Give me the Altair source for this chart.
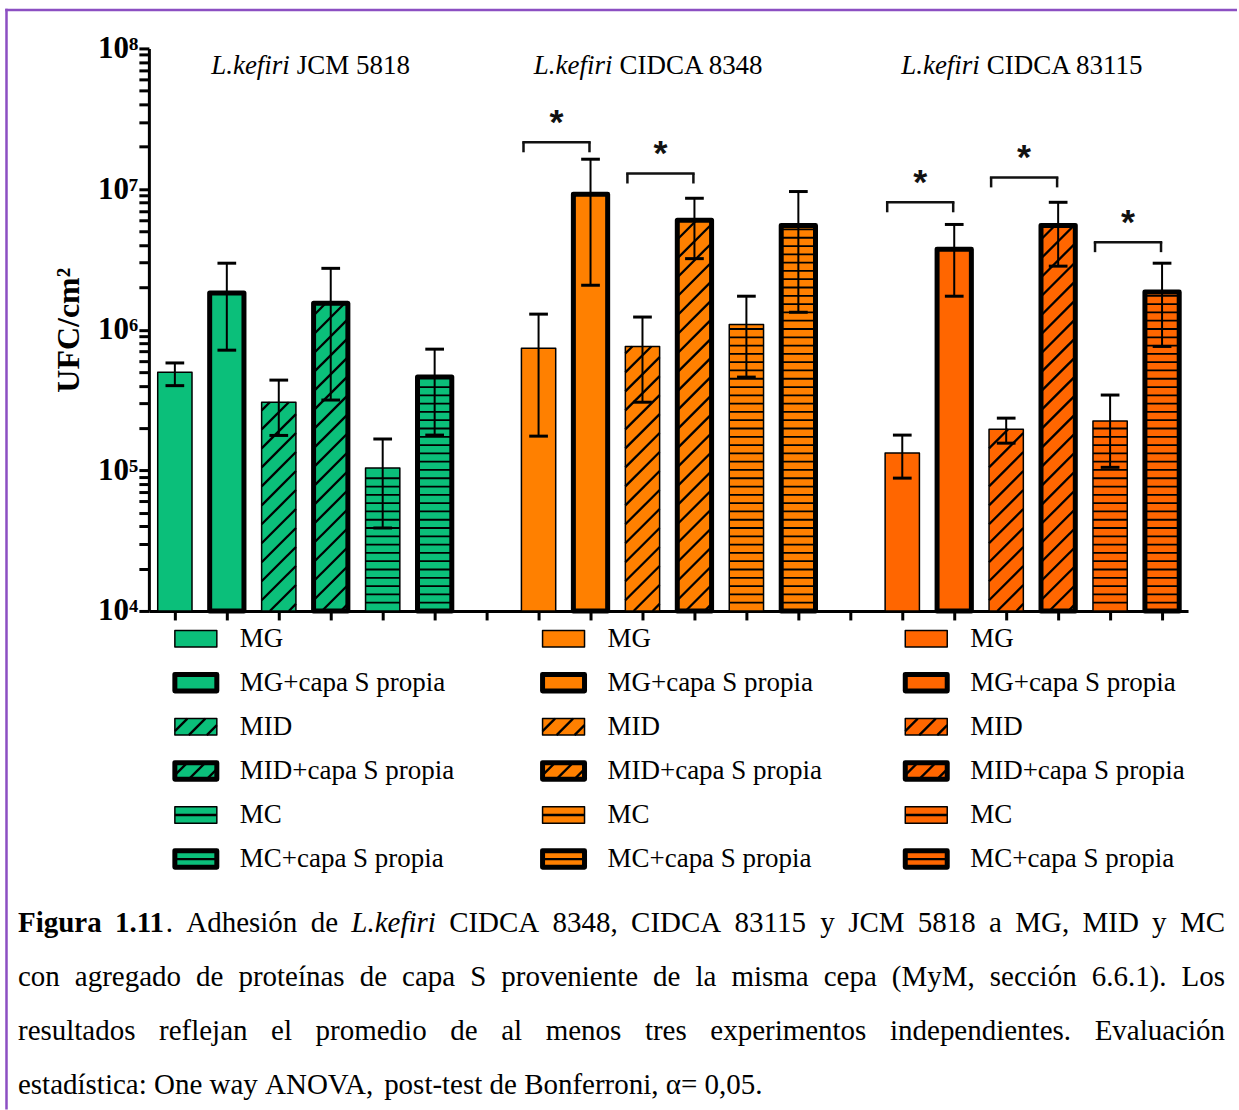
import re
import math
import altair as alt
import pandas as pd

# ---------------- data ----------------
species = "L.kefiri"
strains = ["JCM 5818", "CIDCA 8348", "CIDCA 83115"]
conditions = ["MG", "MG+capa S propia", "MID", "MID+capa S propia", "MC", "MC+capa S propia"]
group_colors = ["#0BBF7A", "#FF8000", "#FF6600"]

mean_jcm5818 = [4.99e5, 1.82e6, 3.05e5, 1.54e6, 1.04e5, 4.6e5]
upper_jcm5818 = [5.8e5, 2.97e6, 4.38e5, 2.73e6, 1.67e5, 7.27e5]
lower_jcm5818 = [4.0e5, 7.15e5, 1.77e5, 3.16e5, 3.89e4, 1.78e5]

mean_cidca8348 = [7.39e5, 9.18e6, 7.6e5, 6.0e6, 1.09e6, 5.5e6]
upper_cidca8348 = [1.29e6, 1.63e7, 1.23e6, 8.6e6, 1.73e6, 9.6e6]
lower_cidca8348 = [1.75e5, 2.07e6, 3.05e5, 3.2e6, 4.6e5, 1.33e6]

mean_cidca83115 = [1.33e5, 3.73e6, 1.96e5, 5.5e6, 2.24e5, 1.85e6]
upper_cidca83115 = [1.78e5, 5.6e6, 2.35e5, 8.05e6, 3.43e5, 2.97e6]
lower_cidca83115 = [8.8e4, 1.73e6, 1.56e5, 2.83e6, 1.05e5, 7.6e5]

# significance brackets
sig_left = [7, 9, 14, 16, 18]
sig_right = [8, 10, 15, 17, 19]
sig_level = [2.15e7, 1.29e7, 8.05e6, 1.21e7, 4.19e6]

title_split = [2.28, 8.49, 15.56]
title_level = 7.45e7

y_ticks = [k * 10 ** e for e in range(4, 8) for k in range(1, 10)] + [10 ** 8]

caption_lines = [
    "**Figura** **1.11**. Adhesión de _L.kefiri_ CIDCA 8348, CIDCA 83115 y JCM 5818 a MG, MID y MC",
    "con agregado de proteínas de capa S proveniente de la misma cepa (MyM, sección 6.6.1). Los",
    "resultados reflejan el promedio de al menos tres experimentos independientes. Evaluación",
    "estadística: One way ANOVA, post-test de Bonferroni, α= 0,05.",
]
caption_justify = [True, True, True, False]

# ---------------- layout / style constants ----------------
W, H = 1040, 563
DEC_PX = H / 4.0
SLOT_PX = W / 20.0
HALF = 0.33
CAP = 0.18
FONT = "Liberation Serif"
PURPLE = "#8C4FC2"

means = [mean_jcm5818, mean_cidca8348, mean_cidca83115]
uppers = [upper_jcm5818, upper_cidca8348, upper_cidca83115]
lowers = [lower_jcm5818, lower_cidca8348, lower_cidca83115]

rows = []
for g in range(3):
    for c in range(6):
        s = 7 * g + c
        rows.append(dict(slot=s, xl=s - HALF, xr=s + HALF, cl=s - CAP, cr=s + CAP,
                         mean=means[g][c], hi=uppers[g][c], lo=lowers[g][c], base=1e4,
                         color=group_colors[g], sw=5.0 if c % 2 else 1.5, pattern=c // 2))
bars = pd.DataFrame(rows)

# hatch geometry derived from the bars
bar_w_px = 2 * HALF * SLOT_PX
RISE = bar_w_px / DEC_PX
DSTEP = 19.0 / DEC_PX
HSTEP = 8.3 / DEC_PX
diag_rows, horz_rows = [], []
for r in rows:
    top = math.log10(r["mean"])
    if r["pattern"] == 1:
        k = 0
        while True:
            L0 = 4 - RISE + 0.05 + k * DSTEP
            if L0 >= top:
                break
            tmin = max(0.0, (4 - L0) / RISE)
            tmax = min(1.0, (top - L0) / RISE)
            if tmax > tmin + 0.02:
                diag_rows.append(dict(x0=r["xl"] + tmin * 2 * HALF, x1=r["xl"] + tmax * 2 * HALF,
                                      y0=10 ** (L0 + tmin * RISE), y1=10 ** (L0 + tmax * RISE)))
            k += 1
    elif r["pattern"] == 2:
        k = 1
        while 4 + k * HSTEP < top - 0.3 * HSTEP:
            horz_rows.append(dict(x0=r["xl"], x1=r["xr"], y=10 ** (4 + k * HSTEP)))
            k += 1
diag = pd.DataFrame(diag_rows)
horz = pd.DataFrame(horz_rows)

sig = pd.DataFrame(dict(bl=[l - 0.29 for l in sig_left], br=[r - 0.02 for r in sig_right],
                        level=sig_level))
sig["mid"] = (sig["bl"] + sig["br"]) / 2

titles = pd.DataFrame(dict(split=title_split, level=[title_level] * 3,
                           species=[species] * 3, strain=strains))

# legend (pixel layout relative to plot origin)
leg_col_x = [26, 394, 757]
leg_row_y = [590.8 + 44.1 * i for i in range(6)]
SW_W, SW_H = 42, 16.5
leg_rows, leg_hatch = [], []
for g in range(3):
    for c in range(6):
        x0 = leg_col_x[g]
        yc = leg_row_y[c]
        yt, yb = yc - SW_H / 2, yc + SW_H / 2
        leg_rows.append(dict(lx0=x0, lx1=x0 + SW_W, ly0=yt, ly1=yb, color=group_colors[g],
                             sw=5.0 if c % 2 else 1.5, label=conditions[c], tx=x0 + 65, ty=yc))
        if c // 2 == 1:
            for a in [-4, 14, 32]:
                tmin = max(0.0, -a / SW_H)
                tmax = min(1.0, (SW_W - a) / SW_H)
                leg_hatch.append(dict(hx0=x0 + a + tmin * SW_H, hx1=x0 + a + tmax * SW_H,
                                      hy0=yb - tmin * SW_H, hy1=yb - tmax * SW_H))
        elif c // 2 == 2:
            leg_hatch.append(dict(hx0=x0, hx1=x0 + SW_W, hy0=yc, hy1=yc))
legend = pd.DataFrame(leg_rows)
legend_h = pd.DataFrame(leg_hatch)

# caption layout (justified using Times-compatible metrics)
REG = {' ': 250, 'a': 444, 'b': 500, 'c': 444, 'd': 500, 'e': 444, 'f': 333, 'g': 500, 'h': 500,
       'i': 278, 'j': 278, 'k': 500, 'l': 278, 'm': 778, 'n': 500, 'o': 500, 'p': 500, 'q': 500,
       'r': 333, 's': 389, 't': 278, 'u': 500, 'v': 500, 'w': 722, 'x': 500, 'y': 500, 'z': 444,
       'A': 722, 'B': 667, 'C': 667, 'D': 722, 'E': 611, 'F': 556, 'G': 722, 'H': 722, 'I': 333,
       'J': 389, 'K': 722, 'L': 611, 'M': 889, 'N': 722, 'O': 722, 'P': 556, 'Q': 722, 'R': 667,
       'S': 556, 'T': 611, 'U': 722, 'V': 722, 'W': 944, 'X': 722, 'Y': 722, 'Z': 611,
       '.': 250, ',': 250, ':': 278, '(': 333, ')': 333, '-': 333, '=': 564,
       'á': 444, 'é': 444, 'í': 278, 'ó': 500, 'ú': 500, 'α': 520}
for d in "0123456789":
    REG[d] = 500
BOLD = {'F': 611, 'i': 278, 'g': 500, 'u': 556, 'r': 444, 'a': 500, '.': 250, ' ': 250}
ITAL = {'L': 556, '.': 250, 'k': 444, 'e': 444, 'f': 278, 'i': 278, 'r': 389}
CAP_FS = 29
CAP_X0, CAP_X1 = -131, 1077
cap_base = [884, 938, 992, 1046]


def piece_w(s, style):
    t = {"r": REG, "b": BOLD, "i": ITAL}[style]
    return sum(t.get(ch, REG.get(ch, 500)) for ch in s) * CAP_FS / 1000.0


cap_rows = []
for li, line in enumerate(caption_lines):
    words = []
    for w in line.split(" "):
        pieces = []
        for m in re.finditer(r"\*\*(.+?)\*\*|_(.+?)_|([^*_]+)", w):
            if m.group(1):
                pieces.append((m.group(1), "b"))
            elif m.group(2):
                pieces.append((m.group(2), "i"))
            else:
                pieces.append((m.group(3), "r"))
        words.append(pieces)
    widths = [sum(piece_w(p, s) for p, s in wd) for wd in words]
    if caption_justify[li]:
        gap = max(0.15 * CAP_FS, (CAP_X1 - CAP_X0 - sum(widths)) / (len(words) - 1))
    else:
        gap = 0.25 * CAP_FS
    x = CAP_X0
    for wd, ww in zip(words, widths):
        for p, s in wd:
            cap_rows.append(dict(x=x, y=cap_base[li], text=p, style=s))
            x += piece_w(p, s)
        x += gap
caption = pd.DataFrame(cap_rows)

# ---------------- chart ----------------
xs = alt.Scale(domain=[-0.5, 19.5], nice=False, zero=False)
ys = alt.Scale(type="log", domain=[1e4, 1e8], nice=False)

label_expr = ("datum.value == 100000000 ? '10⁸' : datum.value == 10000000 ? '10⁷' : "
              "datum.value == 1000000 ? '10⁶' : datum.value == 100000 ? '10⁵' : "
              "datum.value == 10000 ? '10⁴' : ''")

xaxis = alt.Axis(values=list(range(20)), labels=False, title=None, tickSize=9, tickWidth=3,
                 tickColor="black", domainWidth=3, domainColor="black", grid=False)
yaxis = alt.Axis(values=y_ticks, labelExpr=label_expr, labelFont=FONT, labelFontSize=31,
                 labelFontWeight="bold", labelColor="black", labelPadding=1, labelOverlap=False,
                 labelFlush=False, tickSize=10, tickWidth=3, tickColor="black",
                 domainWidth=3, domainColor="black", grid=False,
                 title="UFC/cm²", titleFont=FONT, titleFontSize=32, titleFontWeight="bold",
                 titleColor="black", titlePadding=12)


def X(f):
    return alt.X(f, scale=xs, axis=xaxis)


def Y(f):
    return alt.Y(f, scale=ys, axis=yaxis)


fill = alt.Chart(bars).mark_rect().encode(
    x=X("xl:Q"), x2="xr:Q", y=Y("mean:Q"), y2="base:Q",
    fill=alt.Fill("color:N", scale=None))

diag_l = alt.Chart(diag).mark_rule(color="black", strokeWidth=2.3).encode(
    x=X("x0:Q"), x2="x1:Q", y=Y("y0:Q"), y2="y1:Q")

horz_l = alt.Chart(horz).mark_rule(color="black", strokeWidth=1.8).encode(
    x=X("x0:Q"), x2="x1:Q", y=Y("y:Q"))

outline = alt.Chart(bars).mark_rect(fillOpacity=0, stroke="black", strokeJoin="round").encode(
    x=X("xl:Q"), x2="xr:Q", y=Y("mean:Q"), y2="base:Q",
    strokeWidth=alt.StrokeWidth("sw:Q", scale=None))

stem = alt.Chart(bars).mark_rule(color="black", strokeWidth=2).encode(
    x=X("slot:Q"), y=Y("lo:Q"), y2="hi:Q")
cap_hi = alt.Chart(bars).mark_rule(color="black", strokeWidth=3).encode(
    x=X("cl:Q"), x2="cr:Q", y=Y("hi:Q"))
cap_lo = alt.Chart(bars).mark_rule(color="black", strokeWidth=3).encode(
    x=X("cl:Q"), x2="cr:Q", y=Y("lo:Q"))

br_h = alt.Chart(sig).mark_rule(color="#111111", strokeWidth=2.5, strokeCap="square").encode(
    x=X("bl:Q"), x2="br:Q", y=Y("level:Q"))
br_l = alt.Chart(sig).mark_rule(color="#111111", strokeWidth=2.5, y2Offset=10).encode(
    x=X("bl:Q"), y=Y("level:Q"), y2="level:Q")
br_r = alt.Chart(sig).mark_rule(color="#111111", strokeWidth=2.5, y2Offset=10).encode(
    x=X("br:Q"), y=Y("level:Q"), y2="level:Q")
stars = alt.Chart(sig).mark_text(text="*", font="Liberation Sans", fontSize=36, fontWeight="bold",
                                 dy=-19, baseline="middle", align="center", color="#111111").encode(
    x=X("mid:Q"), y=Y("level:Q"))

t_it = alt.Chart(titles).mark_text(font=FONT, fontSize=27, fontStyle="italic", align="right",
                                   baseline="middle", dx=-3.5, color="black").encode(
    x=X("split:Q"), y=Y("level:Q"), text="species:N")
t_rg = alt.Chart(titles).mark_text(font=FONT, fontSize=27, align="left",
                                   baseline="middle", dx=3.5, color="black").encode(
    x=X("split:Q"), y=Y("level:Q"), text="strain:N")

main = alt.layer(fill, diag_l, horz_l, outline, stem, cap_hi, cap_lo,
                 br_h, br_l, br_r, stars, t_it, t_rg)

# legend layers
PX = dict(scale=None)
lg_fill = alt.Chart(legend).mark_rect().encode(
    x=alt.X("lx0:Q", **PX), x2="lx1:Q", y=alt.Y("ly0:Q", **PX), y2="ly1:Q",
    fill=alt.Fill("color:N", scale=None))
lg_hatch = alt.Chart(legend_h).mark_rule(color="black", strokeWidth=2.3).encode(
    x=alt.X("hx0:Q", **PX), x2="hx1:Q", y=alt.Y("hy0:Q", **PX), y2="hy1:Q")
lg_out = alt.Chart(legend).mark_rect(fillOpacity=0, stroke="black", strokeJoin="round").encode(
    x=alt.X("lx0:Q", **PX), x2="lx1:Q", y=alt.Y("ly0:Q", **PX), y2="ly1:Q",
    strokeWidth=alt.StrokeWidth("sw:Q", scale=None))
lg_text = alt.Chart(legend).mark_text(font=FONT, fontSize=27, align="left", baseline="middle",
                                      color="black").encode(
    x=alt.X("tx:Q", **PX), y=alt.Y("ty:Q", **PX), text="label:N")

cap_layers = []
for style, kw in [("r", {}), ("b", {"fontWeight": "bold"}), ("i", {"fontStyle": "italic"})]:
    cap_layers.append(
        alt.Chart(caption).transform_filter(alt.datum.style == style)
        .mark_text(font=FONT, fontSize=CAP_FS, align="left", baseline="alphabetic",
                   color="black", **kw)
        .encode(x=alt.X("x:Q", **PX), y=alt.Y("y:Q", **PX), text="text:N"))

one = pd.DataFrame({"a": [0]})
border_l = alt.Chart(one).mark_rule(color=PURPLE, strokeWidth=2.5).encode(
    x=alt.value(-142.5), y=alt.value(-39.75), y2=alt.value(1062))
border_t = alt.Chart(one).mark_rule(color=PURPLE, strokeWidth=2.5).encode(
    x=alt.value(-143.75), x2=alt.value(1089), y=alt.value(-38.5))

deco = alt.layer(lg_fill, lg_hatch, lg_out, lg_text, *cap_layers, border_l, border_t)

chart = alt.layer(main, deco).resolve_scale(
    x="independent", y="independent"
).properties(
    width=W, height=H,
    padding={"left": 4, "top": 7, "right": 0, "bottom": 0},
    background="white",
).configure_view(stroke=None)

chart.save("out.html", embed_options={"renderer": "svg", "actions": False})
